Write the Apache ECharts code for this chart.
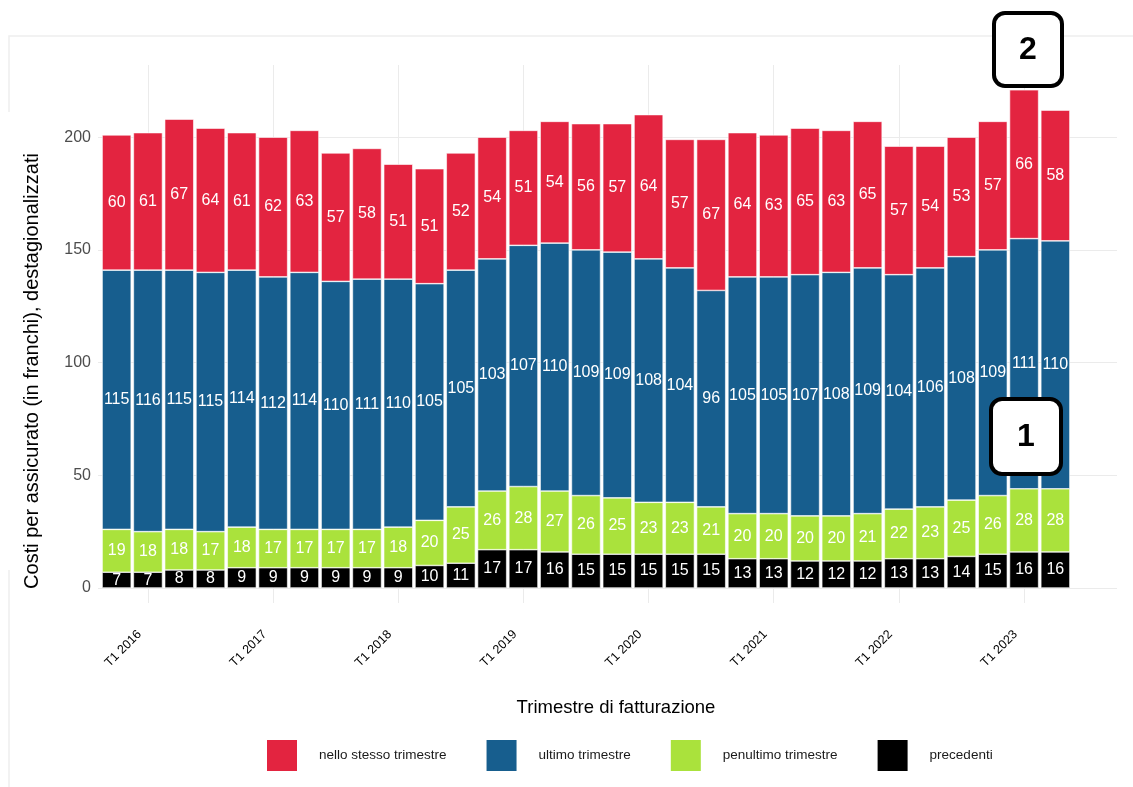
<!DOCTYPE html>
<html>
<head>
<meta charset="utf-8">
<script src="https://cdn.jsdelivr.net/npm/echarts@6/dist/echarts.min.js"></script>
<style>
html, body { margin: 0; padding: 0; background: #fff; }
#chart { width: 1133px; height: 787px; }
</style>
</head>
<body>
<div id="chart"></div>
<script>
const categories = [
  'T4 2015',
  'T1 2016', 'T2 2016', 'T3 2016', 'T4 2016',
  'T1 2017', 'T2 2017', 'T3 2017', 'T4 2017',
  'T1 2018', 'T2 2018', 'T3 2018', 'T4 2018',
  'T1 2019', 'T2 2019', 'T3 2019', 'T4 2019',
  'T1 2020', 'T2 2020', 'T3 2020', 'T4 2020',
  'T1 2021', 'T2 2021', 'T3 2021', 'T4 2021',
  'T1 2022', 'T2 2022', 'T3 2022', 'T4 2022',
  'T1 2023', 'T2 2023'
]
const precedenti = [7, 7, 8, 8, 9, 9, 9, 9, 9, 9, 10, 11, 17, 17, 16, 15, 15, 15, 15, 15, 13, 13, 12, 12, 12, 13, 13, 14, 15, 16, 16]
const penultimo = [19, 18, 18, 17, 18, 17, 17, 17, 17, 18, 20, 25, 26, 28, 27, 26, 25, 23, 23, 21, 20, 20, 20, 20, 21, 22, 23, 25, 26, 28, 28]
const ultimo = [115, 116, 115, 115, 114, 112, 114, 110, 111, 110, 105, 105, 103, 107, 110, 109, 109, 108, 104, 96, 105, 105, 107, 108, 109, 104, 106, 108, 109, 111, 110]
const stesso = [60, 61, 67, 64, 61, 62, 63, 57, 58, 51, 51, 52, 54, 51, 54, 56, 57, 64, 57, 67, 64, 63, 65, 63, 65, 57, 54, 53, 57, 66, 58]
const yTicks = [0, 50, 100, 150, 200]

const FONT = 'Liberation Sans, Arial, sans-serif'
const gridColor = '#ebebeb'
// only the first quarter of each year gets a tick / label / gridline
const isT1 = (i) => i % 4 === 1
const t1Cats = categories.filter((c, i) => isT1(i))

function mkSeries (name, data, color) {
  return {
    name: name,
    type: 'bar',
    stack: 'tot',
    data: data,
    z: 2,
    barCategoryGap: '7%',
    itemStyle: { color: color, borderColor: '#fff', borderWidth: 0.6 },
    label: {
      show: true,
      position: 'inside',
      color: '#fff',
      fontSize: 16,
      fontFamily: FONT
    }
  }
}

const chart = echarts.init(document.getElementById('chart'))
chart.setOption({
  animation: false,
  backgroundColor: '#fff',
  textStyle: { fontFamily: FONT },
  grid: [
    { left: 101, right: 62, top: 65, bottom: 199 },
    { left: 98, right: 16, top: 137, bottom: 199 }
  ],
  xAxis: [
    {
      type: 'category',
      data: categories,
      gridIndex: 0,
      axisLine: { show: false },
      axisTick: {
        show: true,
        alignWithLabel: true,
        interval: (i) => isT1(i),
        length: 15,
        lineStyle: { color: gridColor, width: 1 }
      },
      splitLine: { show: false },
      axisLabel: {
        interval: (i) => isT1(i),
        rotate: 45,
        margin: 36,
        padding: [0, 12, 0, 0],
        color: '#000',
        fontSize: 12.5,
        fontFamily: FONT
      }
    },
    { type: 'value', gridIndex: 1, show: false, min: 0, max: 1 }
  ],
  yAxis: [
    {
      type: 'value',
      gridIndex: 0,
      min: 0,
      max: 232,
      interval: 50,
      axisLine: { show: false },
      axisTick: { show: false },
      splitLine: { show: false },
      axisLabel: {
        color: '#4d4d4d',
        fontSize: 16,
        margin: 10,
        fontFamily: FONT,
        formatter: (v) => (yTicks.indexOf(v) >= 0 ? String(v) : '')
      }
    },
    {
      type: 'value',
      gridIndex: 1,
      min: 0,
      max: 200,
      interval: 50,
      axisLine: { show: false },
      axisTick: { show: false },
      axisLabel: { show: false },
      splitLine: { show: true, lineStyle: { color: gridColor, width: 1 } }
    }
  ],
  legend: {
    left: 265,
    top: 738,
    padding: 0,
    icon: 'rect',
    itemWidth: 32,
    itemHeight: 33,
    itemGap: 38,
    textStyle: { color: '#1a1a1a', fontSize: 13.5, fontFamily: FONT, padding: [0, 0, 0, 16] },
    data: ['nello stesso trimestre', 'ultimo trimestre', 'penultimo trimestre', 'precedenti']
  },
  series: [
    {
      // vertical gridlines at the T1 quarters, kept behind the bars
      name: 'grid',
      type: 'line',
      data: [],
      z: 0,
      zlevel: 0,
      silent: true,
      markLine: {
        z: 0,
        silent: true,
        animation: false,
        symbol: ['none', 'none'],
        label: { show: false },
        lineStyle: { color: gridColor, type: 'solid', width: 1 },
        data: t1Cats.map((c) => ({ xAxis: c }))
      }
    },
    mkSeries('precedenti', precedenti, '#000000'),
    mkSeries('penultimo trimestre', penultimo, '#aae23c'),
    mkSeries('ultimo trimestre', ultimo, '#175e8e'),
    mkSeries('nello stesso trimestre', stesso, '#e32440')
  ],
  graphic: [
    // faint outer frame
    { type: 'polyline', silent: true, shape: { points: [[9, 112], [9, 36], [1133, 36]] }, style: { stroke: '#eeeeee', lineWidth: 1.5, fill: null } },
    { type: 'line', silent: true, shape: { x1: 9, y1: 570, x2: 9, y2: 787 }, style: { stroke: '#eeeeee', lineWidth: 1.5 } },
    {
      type: 'text',
      x: 32,
      y: 371,
      rotation: Math.PI / 2,
      style: {
        text: 'Costi per assicurato (in franchi), destagionalizzati',
        fill: '#000',
        font: '20px ' + FONT,
        align: 'center',
        verticalAlign: 'middle'
      }
    },
    {
      type: 'text',
      x: 616,
      y: 708,
      style: {
        text: 'Trimestre di fatturazione',
        fill: '#000',
        font: '18.5px ' + FONT,
        align: 'center',
        verticalAlign: 'middle'
      }
    },
    // annotation boxes
    { type: 'rect', z: 10, shape: { x: 994, y: 13, width: 68, height: 73, r: 11 }, style: { fill: '#fff', stroke: '#000', lineWidth: 4 } },
    { type: 'text', z: 11, x: 1028, y: 50, style: { text: '2', font: 'bold 32px ' + FONT, fill: '#000', align: 'center', verticalAlign: 'middle' } },
    { type: 'rect', z: 10, shape: { x: 991, y: 399, width: 70, height: 75, r: 11 }, style: { fill: '#fff', stroke: '#000', lineWidth: 4 } },
    { type: 'text', z: 11, x: 1026, y: 437, style: { text: '1', font: 'bold 32px ' + FONT, fill: '#000', align: 'center', verticalAlign: 'middle' } }
  ]
})
</script>
</body>
</html>
